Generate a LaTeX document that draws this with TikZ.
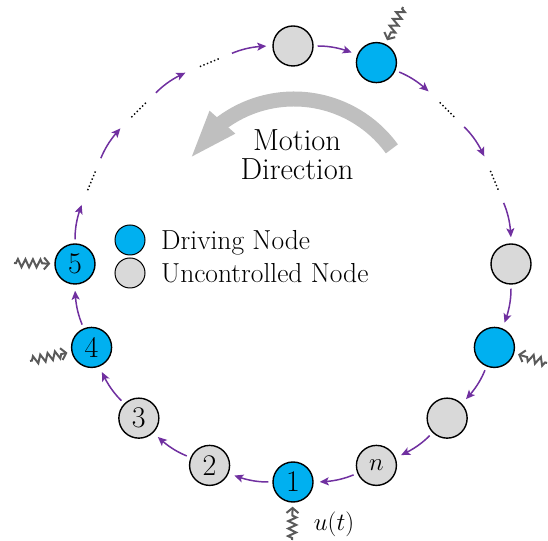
\documentclass[tikz,border=0pt]{standalone}
\usetikzlibrary{arrows.meta,bending,decorations.pathmorphing}
\definecolor{drvblue}{HTML}{00B0F0}
\definecolor{ungray}{HTML}{D9D9D9}
\definecolor{flowpurple}{HTML}{7030A0}
\definecolor{motiongray}{HTML}{BFBFBF}
\definecolor{squiggray}{HTML}{5A5A5A}
\begin{document}
\begin{tikzpicture}[x=1pt,y=1pt,
  ringspot/.style={circle, minimum size=40pt, inner sep=0pt, font=\fontsize{30}{34}\selectfont},
  drv/.style={ringspot, draw=black, line width=1.4pt, fill=drvblue},
  unc/.style={ringspot, draw=black, line width=1.4pt, fill=ungray},
  gapnode/.style={ringspot},
  flow/.style={draw=flowpurple, line width=1.5pt, -{Stealth[length=9pt,width=8pt,inset=2pt]}, shorten <=4pt, shorten >=6pt},
  dotline/.style={line width=1.4pt, dash pattern=on 1.4pt off 2.4pt},
  squig/.style={draw=squiggray, line width=2pt, -{Straight Barb[length=5pt,width=12pt]}, decorate, decoration={zigzag, segment length=7.5pt, amplitude=4pt, pre length=2pt, post length=10pt}, shorten >=4pt},
  legdrv/.style={circle, minimum size=30pt, inner sep=0pt, draw=black, line width=1pt, fill=drvblue},
  legunc/.style={circle, minimum size=30pt, inner sep=0pt, draw=black, line width=1pt, fill=ungray},
  legtext/.style={inner sep=0pt, font=\fontsize{27.5}{32}\selectfont},
  mtext/.style={inner sep=0pt, font=\fontsize{30.5}{34}\selectfont},
  motionarrow/.style={draw=motiongray, line width=15pt, -{Triangle[width=30pt,length=50pt]}}
]
\useasboundingbox (0,0) rectangle (548,540);
\coordinate (O) at (293,276);
\def\R{218}
% ring positions
\node[drv] (n1) at ([shift={(-90:\R)}]O) {1};
\node[unc] (n2) at ([shift={(-112.5:\R)}]O) {2};
\node[unc] (n3) at ([shift={(-135:\R)}]O) {3};
\node[drv] (n4) at ([shift={(-157.5:\R)}]O) {4};
\node[drv] (n5) at ([shift={(180:\R)}]O) {5};
\node[gapnode] (g1) at ([shift={(157.5:\R)}]O) {};
\node[gapnode] (g2) at ([shift={(135:\R)}]O) {};
\node[gapnode] (g3) at ([shift={(112.5:\R)}]O) {};
\node[unc] (t1) at ([shift={(90:\R)}]O) {};
\node[drv] (t2) at ([shift={(67.5:\R)}]O) {};
\node[gapnode] (g4) at ([shift={(45:\R)}]O) {};
\node[gapnode] (g5) at ([shift={(22.5:\R)}]O) {};
\node[unc] (r1) at ([shift={(0:\R)}]O) {};
\node[drv] (r2) at ([shift={(-22.5:\R)}]O) {};
\node[unc] (r3) at ([shift={(-45:\R)}]O) {};
\node[unc] (nn) at ([shift={(-67.5:\R)}]O) {$n$};
% dots
\foreach \g/\a in {g1/157.5, g2/135, g3/112.5, g4/45, g5/22.5}{
  \draw[dotline] ([shift={(\a+90:10.5)}]\g.center) -- ([shift={(\a-90:10.5)}]\g.center);
}
% flow arrows
\foreach \a/\b in {n1/n2, n2/n3, n3/n4, n4/n5, n5/g1, g1/g2, g2/g3, g3/t1, t1/t2, t2/g4, g4/g5, g5/r1, r1/r2, r2/r3, r3/nn, nn/n1}{
  \draw[flow] (\a) to[bend left=11.25] (\b);
}
% inputs
\coordinate (s1) at (292,0);
\coordinate (s5) at (14,277);
\coordinate (s4) at (30,179);
\coordinate (st) at (403,533);
\coordinate (sr) at (547,177);
\draw[squig] (s1) -- (n1);
\draw[squig] (s5) -- (n5);
\draw[squig] (s4) -- (n4);
\draw[squig] (st) -- (t2);
\draw[squig] (sr) -- (r2);
\node[inner sep=0pt, font=\fontsize{32}{34}\selectfont] (ut) at (334,16) {$u(t)$};
% legend
\node[legdrv] (ld) at (130,300) {};
\node[legunc] (lu) at (130,267) {};
\node[legtext, anchor=base west] (ldt) at (161,290) {Driving Node};
\node[legtext, anchor=base west] (lut) at (161,257) {Uncontrolled Node};
% motion direction
\coordinate (mc) at (294,320);
\draw[motionarrow] ([shift={(36:121)}]mc) arc[start angle=36, end angle=150, radius=121];
\node[mtext, anchor=base] (m1) at (297,389) {Motion};
\node[mtext, anchor=base] (m2) at (297,360) {Direction};
\end{tikzpicture}
\end{document}
